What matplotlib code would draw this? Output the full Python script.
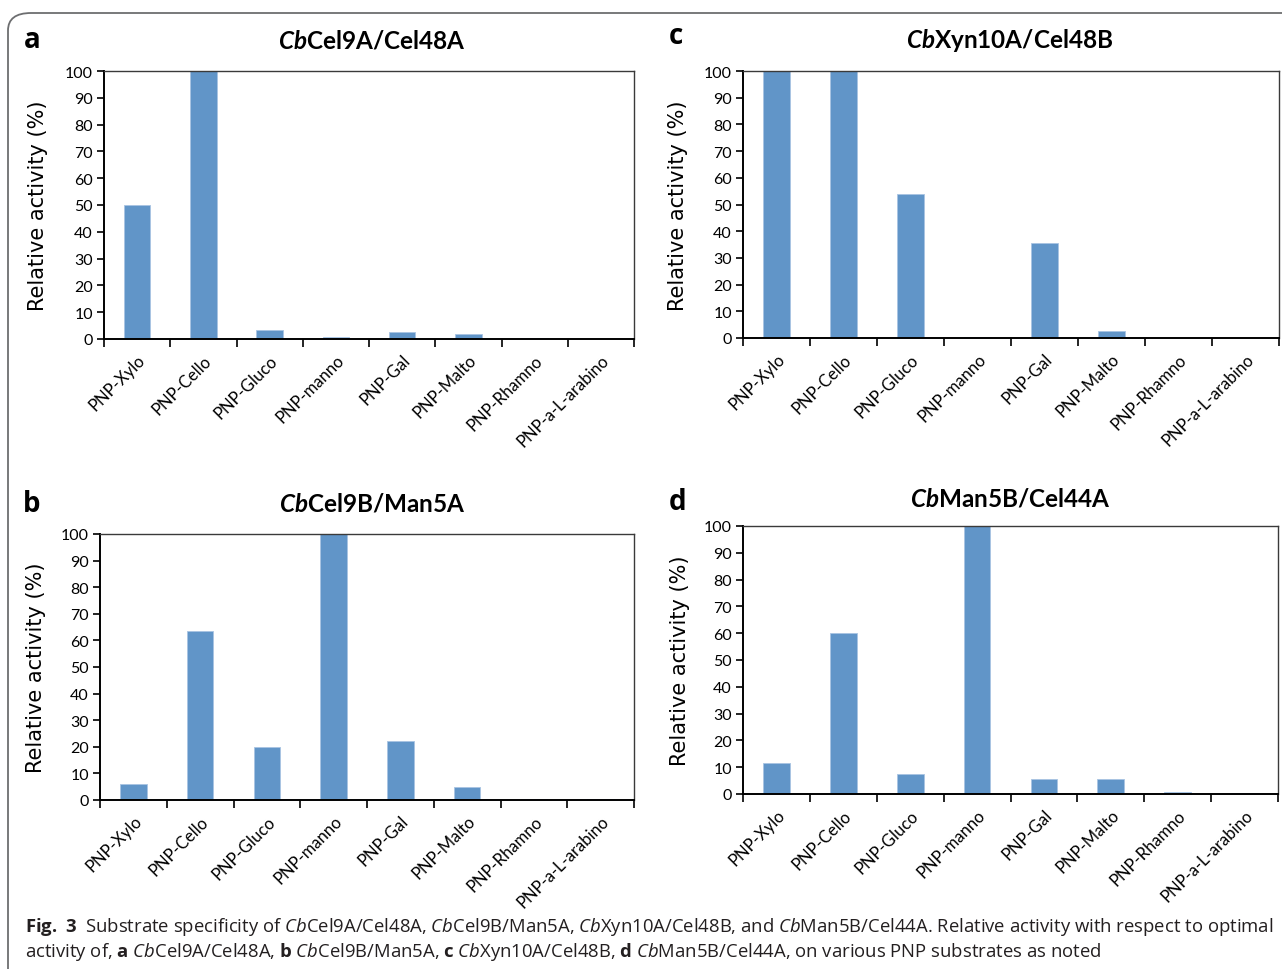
import matplotlib
matplotlib.use("Agg")
import numpy as np
import matplotlib.pyplot as plt
from matplotlib.patches import FancyBboxPatch

# ---- data (relative activity, %) ----
substrates = ["PNP-Xylo", "PNP-Cello", "PNP-Gluco", "PNP-manno", "PNP-Gal",
              "PNP-Malto", "PNP-Rhamno", "PNP-a-L-arabino"]
cel9a_cel48a = [50, 100, 3.5, 0.6, 2.7, 2.0, 0.2, 0.1]
cel9b_man5a = [6, 63.5, 20, 100, 22, 5, 0.3, 0.3]
xyn10a_cel48b = [100, 100, 54, 0.4, 35.5, 2.7, 0.0, 0.0]
man5b_cel44a = [11.5, 60, 7.5, 100, 5.5, 5.5, 0.8, 0.4]

BAR = "#6195c8"
W, H = 1282, 970

plt.rcParams.update({
    "mathtext.fontset": "custom",
    "mathtext.rm": "Open Sans",
    "mathtext.it": "Open Sans:italic",
    "mathtext.bf": "Open Sans:bold",
    "mathtext.bfit": "Lato:bold:italic",
})

fig = plt.figure(figsize=(W / 100, H / 100), dpi=100)

# outer frame (rounded top-left corner)
frame = FancyBboxPatch((8 / W, -0.05), 1.2, 1 - 14 / H + 0.05,
                       boxstyle="round,pad=0,rounding_size=0.018",
                       transform=fig.transFigure, fill=False,
                       edgecolor="#6d6e70", linewidth=1.3)
fig.patches.append(frame)


def px(x, y):
    return x / W, 1 - y / H


# (letter, title, values, axes box [l, t, r, b] px, letter pos, title pos, ylabel x)
panels = [
    ("a", r"$\mathbfit{Cb}$Cel9A/Cel48A", cel9a_cel48a, (104, 72, 634, 340), (32, 41), (372, 41), 38),
    ("c", r"$\mathbfit{Cb}$Xyn10A/Cel48B", xyn10a_cel48b, (743, 72, 1279, 339), (676, 37), (1010, 41), 678),
    ("b", r"$\mathbfit{Cb}$Cel9B/Man5A", cel9b_man5a, (100, 535, 634, 801), (32, 504), (372, 504), 36),
    ("d", r"$\mathbfit{Cb}$Man5B/Cel44A", man5b_cel44a, (743, 527, 1278, 795), (678, 502), (1010, 499), 680),
]

x = np.arange(len(substrates))
for letter, title, vals, (l, t, r, b), lpos, tpos, ylx in panels:
    ax = fig.add_axes([l / W, 1 - b / H, (r - l) / W, (b - t) / H])
    ax.bar(x, vals, 0.4, color=BAR, edgecolor="#a8c4e2", linewidth=0.6, zorder=2)
    ax.set_xlim(-0.5, len(substrates) - 0.5)
    ax.set_ylim(0, 100)
    ax.set_yticks(np.arange(0, 101, 10))
    ax.set_xticks(np.arange(-0.5, len(substrates), 1.0))
    ax.set_xticklabels([])
    ax.set_xticks(x, minor=True)
    ax.set_xticklabels(substrates, minor=True, rotation=45, ha="right",
                       rotation_mode="anchor", fontsize=12, family="Lato")
    ax.tick_params(axis="x", which="major", direction="out", length=6, width=1.2)
    ax.tick_params(axis="x", which="minor", length=0, pad=9)
    ax.tick_params(axis="y", direction="out", length=5, width=1.2, labelsize=11.5, pad=3)
    for lab in ax.get_yticklabels():
        lab.set_family("Lato")
    for s in ("left", "bottom"):
        ax.spines[s].set_linewidth(1.4)
        ax.spines[s].set_color("black")
    for s in ("top", "right"):
        ax.spines[s].set_linewidth(1.0)
        ax.spines[s].set_color("#3a3a3a")
    fig.text(*px(ylx, (t + b) / 2), "Relative activity (%)", rotation=90,
             ha="center", va="center", fontsize=15, family="DejaVu Sans")
    fig.text(*px(*lpos), letter, ha="center", va="center", fontsize=20,
             fontweight="bold", family="Open Sans")
    fig.text(*px(*tpos), title, ha="center", va="center", fontsize=17.5,
             fontweight="bold", family="Lato")

cap1 = (r"$\mathbf{Fig.\ 3}$  Substrate specificity of $\mathit{Cb}$Cel9A/Cel48A, "
        r"$\mathit{Cb}$Cel9B/Man5A, $\mathit{Cb}$Xyn10A/Cel48B, and $\mathit{Cb}$Man5B/Cel44A. "
        "Relative activity with respect to optimal")
cap2 = (r"activity of, $\mathbf{a}$ $\mathit{Cb}$Cel9A/Cel48A, $\mathbf{b}$ $\mathit{Cb}$Cel9B/Man5A, "
        r"$\mathbf{c}$ $\mathit{Cb}$Xyn10A/Cel48B, $\mathbf{d}$ $\mathit{Cb}$Man5B/Cel44A, "
        "on various PNP substrates as noted")
fig.text(*px(25, 927), cap1, ha="left", va="center", fontsize=13.3,
         family="Open Sans", color="#231f20")
fig.text(*px(25, 952), cap2, ha="left", va="center", fontsize=13.3,
         family="Open Sans", color="#231f20")

fig.savefig("out.png", dpi=100)
